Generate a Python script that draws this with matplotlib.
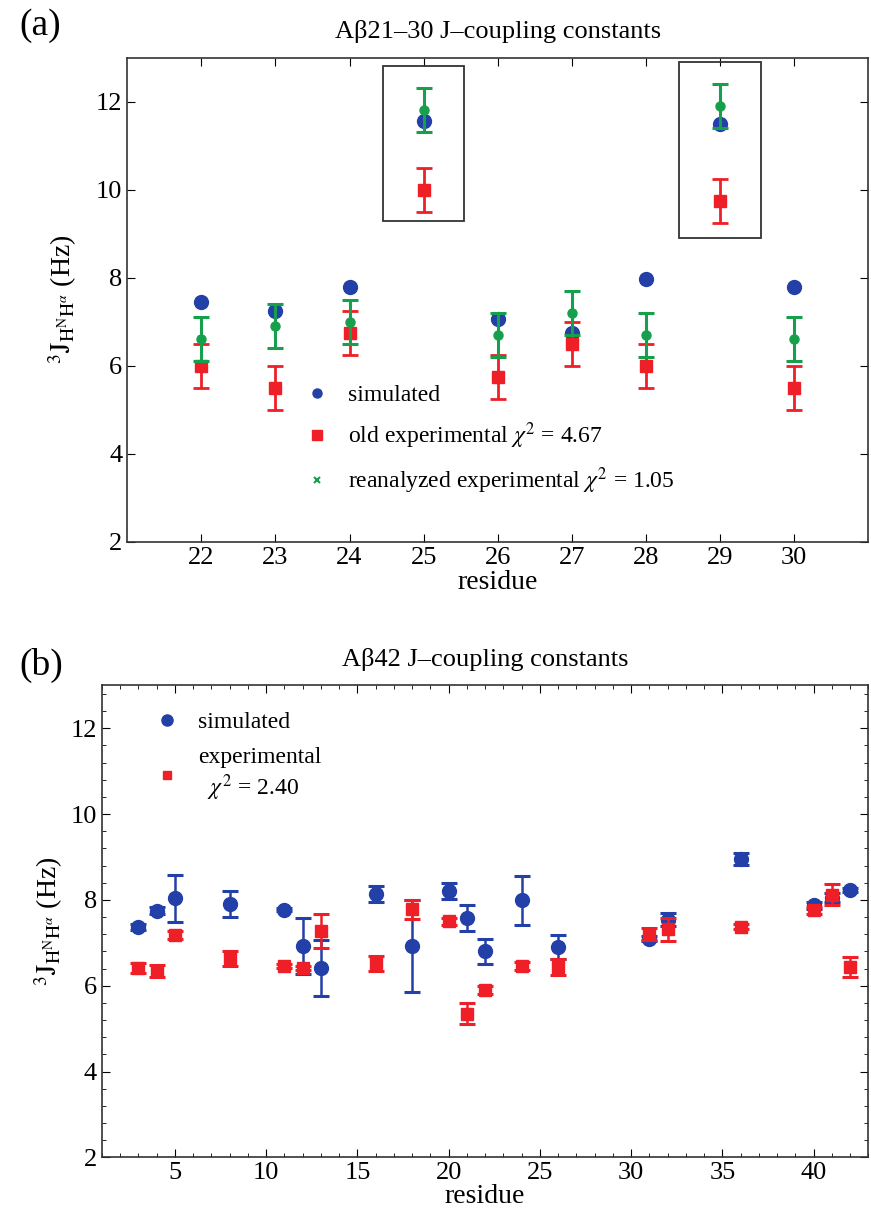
import matplotlib
matplotlib.use("Agg")
import matplotlib.pyplot as plt
from matplotlib.patches import Rectangle
from matplotlib.ticker import MultipleLocator

plt.rcParams['font.family'] = ['Liberation Serif', 'DejaVu Serif']
plt.rcParams['mathtext.fontset'] = 'stix'

BLUE = '#2340a8'
RED = '#ee1f26'
GREEN = '#16a04c'

# ---- panel (a): Abeta21-30 ----
res_a = [22, 23, 24, 25, 26, 27, 28, 29, 30]
sim_a = [7.45, 7.25, 7.8, 11.57, 7.07, 6.75, 7.98, 11.5, 7.79]
old_a = [6.0, 5.5, 6.75, 10.0, 5.75, 6.5, 6.0, 9.75, 5.5]
old_err_a = [0.5, 0.5, 0.5, 0.5, 0.5, 0.5, 0.5, 0.5, 0.5]
new_a = [6.6, 6.9, 7.0, 11.8, 6.7, 7.2, 6.7, 11.9, 6.6]
new_err_a = [0.5, 0.5, 0.5, 0.5, 0.5, 0.5, 0.5, 0.5, 0.5]
box_res = [25, 29]
box_lo = [9.3, 8.9]
box_hi = [12.8, 12.9]

# ---- panel (b): Abeta42 ----
res_b = [3, 4, 5, 8, 11, 12, 13, 16, 18, 20, 21, 22, 24, 26, 31, 32, 36, 40, 41, 42]
sim_b = [7.37, 7.75, 8.04, 7.9, 7.77, 6.93, 6.42, 8.14, 6.93, 8.21, 7.58, 6.8,
         7.99, 6.9, 7.1, 7.54, 8.96, 7.87, 8.05, 8.23]
sim_err_b = [0.07, 0.08, 0.55, 0.3, 0.04, 0.65, 0.65, 0.19, 1.07, 0.19, 0.31, 0.3,
             0.57, 0.27, 0.05, 0.15, 0.14, 0.08, 0.1, 0.04]
exp_b = [6.42, 6.35, 7.19, 6.64, 6.46, 6.42, 7.27, 6.52, 7.78, 7.5, 5.35, 5.9,
         6.46, 6.44, 7.21, 7.31, 7.37, 7.76, 8.12, 6.44]
exp_err_b = [0.12, 0.14, 0.09, 0.18, 0.05, 0.05, 0.4, 0.17, 0.22, 0.08, 0.25, 0.09,
             0.1, 0.19, 0.14, 0.27, 0.06, 0.08, 0.24, 0.24]

fig = plt.figure(figsize=(8.71, 12.26), dpi=100)
ax1 = fig.add_axes([0.146, 0.558, 0.851, 0.395])
ax2 = fig.add_axes([0.117, 0.056, 0.880, 0.385])

ylab = r'$^{3}\mathrm{J}_{\mathrm{H}^{\mathrm{N}}\mathrm{H}^{\alpha}}$ (Hz)'

# panel (a)
ax1.errorbar(res_a, sim_a, fmt='o', color=BLUE, ms=10, zorder=2)
ax1.errorbar(res_a, old_a, yerr=old_err_a, fmt='s', color=RED, ms=8,
             elinewidth=2, capsize=5.5, capthick=2, zorder=3)
ax1.errorbar(res_a, new_a, yerr=new_err_a, fmt='o', color=GREEN, ms=6.5,
             elinewidth=2.2, capsize=5.5, capthick=2.2, zorder=4)
for r, lo, hi in zip(box_res, box_lo, box_hi):
    ax1.add_patch(Rectangle((r - 0.55, lo), 1.1, hi - lo, fill=False,
                            ec='#333333', lw=1.3, zorder=5))

ax1.plot([], [], 'o', color=BLUE, ms=6.5, label='simulated')
ax1.plot([], [], 's', color=RED, ms=6.5, label=r'old experimental $\chi^2$ = 4.67')
ax1.plot([], [], 'x', color=GREEN, ms=5, mew=1.5, label=r'reanalyzed experimental $\chi^2$ = 1.05')
ax1.legend(loc='center left', bbox_to_anchor=(0.215, 0.21), frameon=False,
           fontsize=17, handlelength=0.8, handletextpad=0.9, labelspacing=0.6)

ax1.set_xlim(21, 31)
ax1.set_ylim(2, 13)
ax1.set_xticks(res_a)
ax1.set_yticks([2, 4, 6, 8, 10, 12])
ax1.tick_params(direction='in', top=True, right=True, length=6, labelsize=19)
ax1.set_xlabel('residue', fontsize=20, labelpad=1)
ax1.set_ylabel(ylab, fontsize=20, labelpad=12)
ax1.set_title('Aβ21–30 J–coupling constants', fontsize=19, pad=14)
fig.text(0.022, 0.979, '(a)', fontsize=27, va='center')

# panel (b)
ax2.errorbar(res_b, sim_b, yerr=sim_err_b, fmt='o', color=BLUE, ms=10,
             elinewidth=1.8, capsize=6, capthick=2.2, zorder=2)
ax2.errorbar(res_b, exp_b, yerr=exp_err_b, fmt='s', color=RED, ms=8.5,
             elinewidth=1.8, capsize=6, capthick=2.2, zorder=3)

ax2.plot([], [], 'o', color=BLUE, ms=8, label='simulated')
ax2.plot([], [], 's', color=RED, ms=6, label='experimental\n  $\\chi^2$ = 2.40')
ax2.legend(loc='upper left', bbox_to_anchor=(0.045, 0.99), frameon=False,
           fontsize=17, handlelength=0.8, handletextpad=0.9, labelspacing=0.6)

ax2.set_xlim(1, 43)
ax2.set_ylim(2, 13)
ax2.set_xticks([5, 10, 15, 20, 25, 30, 35, 40])
ax2.xaxis.set_minor_locator(MultipleLocator(1))
ax2.set_yticks([2, 4, 6, 8, 10, 12])
ax2.yaxis.set_minor_locator(MultipleLocator(0.4))
ax2.tick_params(which='major', direction='in', top=True, right=True, length=6, labelsize=19)
ax2.tick_params(which='minor', direction='in', top=True, right=True, length=3)
ax2.set_xlabel('residue', fontsize=20, labelpad=0)
ax2.set_ylabel(ylab, fontsize=20, labelpad=4)
ax2.set_title('Aβ42 J–coupling constants', fontsize=19, pad=14)
fig.text(0.022, 0.457, '(b)', fontsize=27, va='center')

for ax in (ax1, ax2):
    for s in ax.spines.values():
        s.set_color('#333333')
        s.set_linewidth(1.2)

fig.savefig('out.png', dpi=100)
